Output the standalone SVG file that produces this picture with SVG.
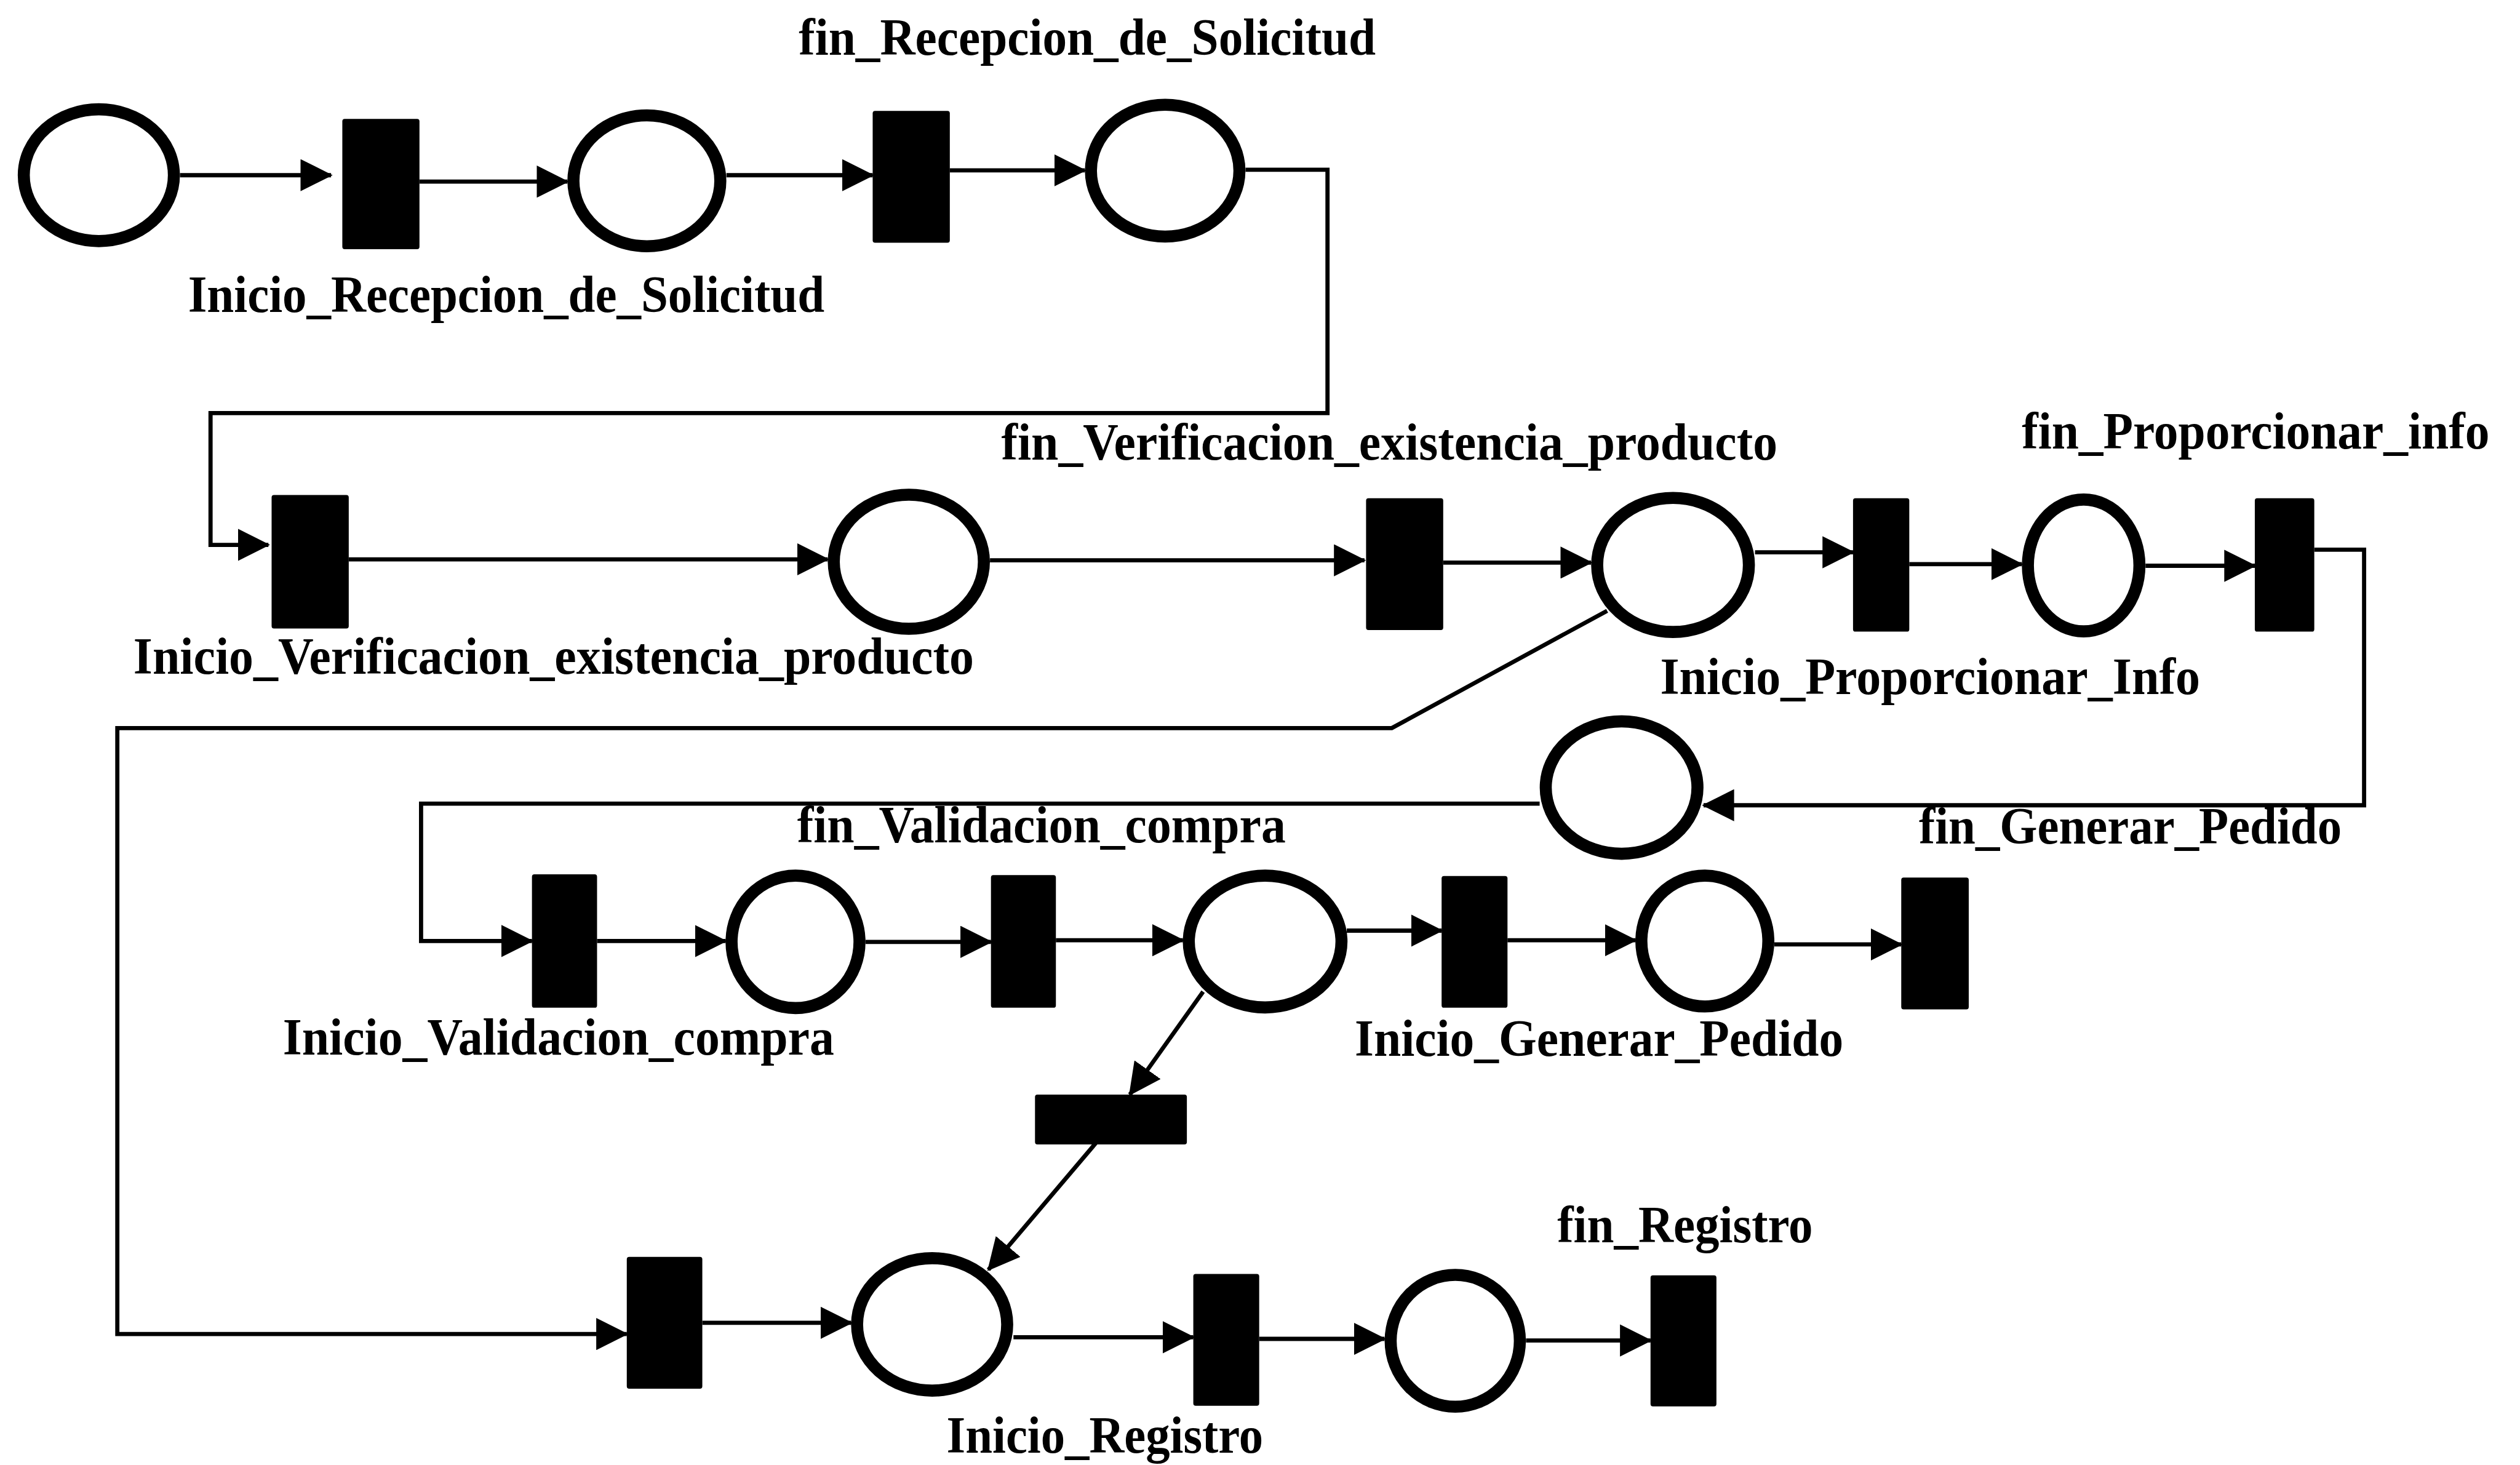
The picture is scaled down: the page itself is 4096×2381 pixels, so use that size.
<svg xmlns="http://www.w3.org/2000/svg" width="4096" height="2381" viewBox="0 0 4096 2381">
  <style>
    .place { fill: none; stroke: #000; stroke-width: 7.5; }
    .trans { fill: #000; }
    .arc { fill: none; stroke: #000; stroke-width: 2.6; stroke-linejoin: miter; }
    .arr { marker-end: url(#head); }
    .lbl { font-family: "Liberation Serif", "Times New Roman", serif; font-weight: bold; font-size: 32px; fill: #000; }
  </style>
  <defs>
    <marker id="head" markerUnits="userSpaceOnUse" viewBox="0 0 20 20" markerWidth="20" markerHeight="20" refX="19" refY="10" orient="auto">
      <path d="M0,0 L20,10 L0,20 Z" fill="#000"/>
    </marker>
  </defs>
  <rect x="0" y="0" width="4096" height="2381" fill="#fff"/>

  <!-- drawing laid out on a 1568-unit grid, scaled to the canvas -->
  <g transform="scale(2.61224)">

    <!-- arcs -->
    <g id="connectors">
      <path class="arc arr" d="M112,109 H206"/>
      <path class="arc arr" d="M261,113 H353"/>
      <path class="arc arr" d="M452,109 H543"/>
      <path class="arc arr" d="M591,106 H675"/>
      <path class="arc arr" d="M775,105.6 H826 V257 H131 V339 H167"/>
      <path class="arc arr" d="M217,348 H515"/>
      <path class="arc arr" d="M616,348.6 H849"/>
      <path class="arc arr" d="M898,350 H990"/>
      <path class="arc arr" d="M1092,343.6 H1153"/>
      <path class="arc arr" d="M1188,351 H1258"/>
      <path class="arc arr" d="M1335,352 H1403"/>
      <path class="arc arr" d="M1440,342 H1471 V501 H1060"/>
      <path class="arc arr" d="M958,500 H262 V585.5 H331"/>
      <path class="arc arr" d="M1000,380 L866,453 H73 V830 H390"/>
      <path class="arc arr" d="M371.5,585.5 H451.5"/>
      <path class="arc arr" d="M538.6,586 H616.6"/>
      <path class="arc arr" d="M657,585 H736"/>
      <path class="arc arr" d="M838,579 H897"/>
      <path class="arc arr" d="M938,585 H1017.6"/>
      <path class="arc arr" d="M1104,587.6 H1183"/>
      <path class="arc arr" d="M748.6,617 L703,681"/>
      <path class="arc arr" d="M682,711 L615,790"/>
      <path class="arc arr" d="M437,823 H529.6"/>
      <path class="arc arr" d="M630.6,832 H742.5"/>
      <path class="arc arr" d="M783.5,833 H861.5"/>
      <path class="arc arr" d="M949.5,834 H1027"/>
    </g>

    <!-- places -->
    <g id="p1"><ellipse class="place" cx="61.5" cy="109" rx="46.7" ry="41"/></g>
    <g id="p2"><ellipse class="place" cx="402.5" cy="112.5" rx="45.7" ry="40.7"/></g>
    <g id="p3"><ellipse class="place" cx="725" cy="106.2" rx="46.2" ry="41"/></g>
    <g id="p4"><ellipse class="place" cx="565.5" cy="349.5" rx="46.7" ry="41.7"/></g>
    <g id="p5"><ellipse class="place" cx="1041" cy="351.5" rx="47.2" ry="41.7"/></g>
    <g id="p6"><ellipse class="place" cx="1296.5" cy="351.8" rx="34.7" ry="41"/></g>
    <g id="p7"><ellipse class="place" cx="1009" cy="490" rx="47.2" ry="41.2"/></g>
    <g id="p8"><ellipse class="place" cx="495" cy="586" rx="39.8" ry="41.2"/></g>
    <g id="p9"><ellipse class="place" cx="787.2" cy="585.8" rx="47.5" ry="41"/></g>
    <g id="p10"><ellipse class="place" cx="1060.8" cy="585.5" rx="39.5" ry="40.7"/></g>
    <g id="p11"><ellipse class="place" cx="580" cy="824" rx="46.7" ry="41.2"/></g>
    <g id="p12"><ellipse class="place" cx="905.5" cy="834.2" rx="40.2" ry="41"/></g>

    <!-- transitions -->
    <g id="t1"><rect class="trans" x="213" y="74" width="48" height="81" rx="1.5"/></g>
    <g id="t2"><rect class="trans" x="543" y="69" width="48" height="82" rx="1.5"/></g>
    <g id="t3"><rect class="trans" x="169" y="308" width="48" height="83" rx="1.5"/></g>
    <g id="t4"><rect class="trans" x="850" y="310" width="48" height="82" rx="1.5"/></g>
    <g id="t5"><rect class="trans" x="1153" y="310" width="35" height="83" rx="1.5"/></g>
    <g id="t6"><rect class="trans" x="1403" y="310" width="37" height="83" rx="1.5"/></g>
    <g id="t7"><rect class="trans" x="331" y="544" width="40.5" height="83" rx="1.5"/></g>
    <g id="t8"><rect class="trans" x="616.6" y="544.5" width="40.4" height="82.5" rx="1.5"/></g>
    <g id="t9"><rect class="trans" x="897" y="545" width="41" height="82" rx="1.5"/></g>
    <g id="t10"><rect class="trans" x="1183" y="546" width="42" height="82" rx="1.5"/></g>
    <g id="t11"><rect class="trans" x="644" y="681" width="94.5" height="31" rx="1.5"/></g>
    <g id="t12"><rect class="trans" x="390" y="782" width="47" height="82" rx="1.5"/></g>
    <g id="t13"><rect class="trans" x="742.5" y="792.6" width="41" height="82" rx="1.5"/></g>
    <g id="t14"><rect class="trans" x="1027" y="793.5" width="41" height="81.5" rx="1.5"/></g>

    <!-- transition names -->
    <g id="labels">
      <text class="lbl" x="497" y="34" textLength="359" lengthAdjust="spacingAndGlyphs">fin_Recepcion_de_Solicitud</text>
      <text class="lbl" x="117" y="194" textLength="396" lengthAdjust="spacingAndGlyphs">Inicio_Recepcion_de_Solicitud</text>
      <text class="lbl" x="623" y="286" textLength="483" lengthAdjust="spacingAndGlyphs">fin_Verificacion_existencia_producto</text>
      <text class="lbl" x="83" y="419" textLength="523" lengthAdjust="spacingAndGlyphs">Inicio_Verificacion_existencia_producto</text>
      <text class="lbl" x="1258" y="279" textLength="291" lengthAdjust="spacingAndGlyphs">fin_Proporcionar_info</text>
      <text class="lbl" x="1033" y="432" textLength="336" lengthAdjust="spacingAndGlyphs">Inicio_Proporcionar_Info</text>
      <text class="lbl" x="1194" y="525" textLength="263" lengthAdjust="spacingAndGlyphs">fin_Generar_Pedido</text>
      <text class="lbl" x="496" y="524" textLength="304" lengthAdjust="spacingAndGlyphs">fin_Validacion_compra</text>
      <text class="lbl" x="176" y="656" textLength="343" lengthAdjust="spacingAndGlyphs">Inicio_Validacion_compra</text>
      <text class="lbl" x="843" y="657" textLength="304" lengthAdjust="spacingAndGlyphs">Inicio_Generar_Pedido</text>
      <text class="lbl" x="589" y="904" textLength="197" lengthAdjust="spacingAndGlyphs">Inicio_Registro</text>
      <text class="lbl" x="969" y="773" textLength="159" lengthAdjust="spacingAndGlyphs">fin_Registro</text>
    </g>
  </g>
</svg>
